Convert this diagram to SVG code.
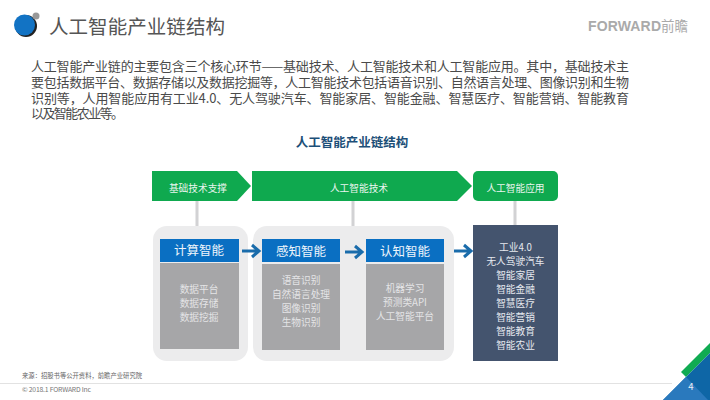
<svg xmlns="http://www.w3.org/2000/svg" width="710" height="400" viewBox="0 0 710 400">
<style>
text{font-family:"Noto Sans CJK SC","Noto Sans",sans-serif}
.m{text-anchor:middle}
.para{font-size:13px;fill:#4a4a4a}
.cap{font-size:9.7px;fill:#e9f5ee;text-anchor:middle}
.hd{font-size:12.5px;fill:#eef5fb;text-anchor:middle}
.bd{font-size:9.7px;fill:#e4e4e6;text-anchor:middle}
.dk{font-size:9.7px;fill:#e6e9ee;text-anchor:middle}
.g{fill:#0fa94f}
.panel{fill:#ececed}
.blue{fill:#0a6fc2}
.gray{fill:#a6a6a8}
.conn{stroke:#d2d2d4;stroke-width:3;fill:none}
.arr{stroke:#1a6cab;stroke-width:3;fill:none}
</style>
<defs><path id="a" d="M0 0H17M10 -6L17 0L10 6"/></defs>
<rect width="710" height="400" fill="#fff"/>
<g id="logo">
<circle cx="26" cy="26" r="11" fill="#222"/>
<circle cx="24.500" cy="25" r="10.500" fill="#1273c4"/>
<circle cx="36" cy="16" r="3.500" fill="#999"/>
</g>
<text id="title" x="49" y="34" font-size="19.500" fill="#555" textLength="176">人工智能产业链结构</text>
<g id="brand" fill="#aaa">
<text x="588" y="31" font-size="14" font-weight="700" textLength="73" style="font-family:'Liberation Sans',sans-serif">FORWARD</text>
<text x="661" y="31" font-size="13.500" textLength="27">前瞻</text>
</g>
<g id="intro" class="para">
<text x="31" y="71" textLength="598">人工智能产业链的主要包含三个核心环节——基础技术、人工智能技术和人工智能应用。其中，基础技术主</text>
<text x="31" y="87" textLength="598">要包括数据平台、数据存储以及数据挖掘等，人工智能技术包括语音识别、自然语言处理、图像识别和生物</text>
<text x="31" y="103" textLength="598">识别等，人用智能应用有工业4.0、无人驾驶汽车、智能家居、智能金融、智慧医疗、智能营销、智能教育</text>
<text x="31" y="118" textLength="93">以及智能农业等。</text>
</g>
<text id="heading" class="m" x="352" y="146.500" font-size="12.500" font-weight="700" fill="#1c4f78">人工智能产业链结构</text>
<g id="stage-foundation">
<path class="g" d="M152 171H237L251 186L237 201H152Z"/>
<text class="cap" x="198" y="191.500">基础技术支撑</text>
</g>
<g id="stage-tech">
<path class="g" d="M252 171H457L472 186L457 201H252Z"/>
<text class="cap" x="359" y="191.500">人工智能技术</text>
</g>
<g id="stage-app">
<rect class="g" x="473" y="171" width="85" height="30" rx="5"/>
<text class="cap" x="515.500" y="191.500">人工智能应用</text>
</g>
<g id="computing">
<rect class="panel" x="153" y="226" width="95" height="135" rx="14"/>
<rect class="blue" x="160" y="239" width="79" height="23"/>
<text class="hd" x="199" y="255">计算智能</text>
<rect class="gray" x="160" y="263" width="79" height="86"/>
<text class="bd" x="199" y="292.500">数据平台</text>
<text class="bd" x="199" y="306.500">数据存储</text>
<text class="bd" x="199" y="320.500">数据挖掘</text>
</g>
<rect id="panel-two" class="panel" x="253" y="226" width="201" height="135" rx="14"/>
<g id="perception">
<rect class="blue" x="262" y="239" width="78" height="23"/>
<text class="hd" x="301" y="256">感知智能</text>
<rect class="gray" x="262" y="264" width="78" height="86"/>
<text class="bd" x="301" y="283.500">语音识别</text>
<text class="bd" x="301" y="297.500">自然语言处理</text>
<text class="bd" x="301" y="311.500">图像识别</text>
<text class="bd" x="301" y="325.500">生物识别</text>
</g>
<g id="cognition">
<rect class="blue" x="366" y="239" width="78" height="23"/>
<text class="hd" x="405" y="256">认知智能</text>
<rect class="gray" x="366" y="264" width="78" height="86"/>
<text class="bd" x="405" y="291.500">机器学习</text>
<text class="bd" x="405" y="305.500">预测类API</text>
<text class="bd" x="405" y="319.500">人工智能平台</text>
</g>
<g id="applications">
<rect x="473" y="225" width="85" height="136" fill="#44546e"/>
<text class="dk" x="515.500" y="250.500">工业4.0</text>
<text class="dk" x="515.500" y="264.500">无人驾驶汽车</text>
<text class="dk" x="515.500" y="278.500">智能家居</text>
<text class="dk" x="515.500" y="292.500">智能金融</text>
<text class="dk" x="515.500" y="306.500">智慧医疗</text>
<text class="dk" x="515.500" y="320.500">智能营销</text>
<text class="dk" x="515.500" y="335">智能教育</text>
<text class="dk" x="515.500" y="349">智能农业</text>
</g>
<g id="connectors">
<path class="conn" d="M197 201V226M353 201V226M515 201V225"/>
<use href="#a" class="arr" x="242" y="251"/>
<use href="#a" class="arr" x="345" y="252"/>
<use href="#a" class="arr" x="454" y="251"/>
</g>
<text id="source" x="22" y="378" font-size="6.300" fill="#666" textLength="120">来源：招股书等公开资料，前瞻产业研究院</text>
<path id="rule" d="M0 383.500H672" stroke="#e2e2e2" stroke-width="1"/>
<text id="copyright" x="22" y="392" font-size="6.800" fill="#777" textLength="69">© 2018.1 FORWARD Inc</text>
<g id="corner">
<path d="M710 343L681 372L686 377L710 353Z" fill="#10ab52"/>
<path d="M686 377L710 353V400H663Z" fill="#0e66a6"/>
<path d="M686 377L663 400H708Z" fill="#2a79bd"/>
<text x="691" y="390" font-size="9.500" fill="#e8eef5" class="m">4</text>
</g>
</svg>
